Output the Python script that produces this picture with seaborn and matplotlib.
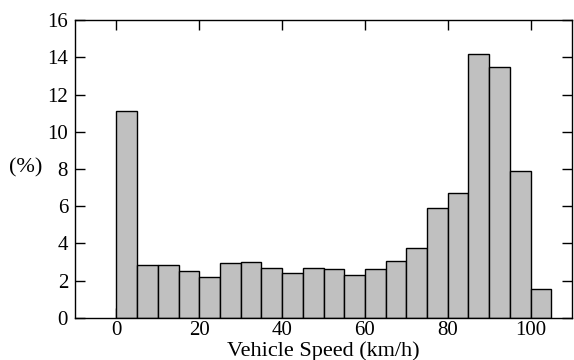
import numpy as np
import pandas as pd
import matplotlib
matplotlib.use("Agg")
import matplotlib.pyplot as plt
import seaborn as sns

bin_left = [0, 5, 10, 15, 20, 25, 30, 35, 40, 45, 50, 55, 60, 65, 70, 75, 80, 85, 90, 95, 100]
percent = [11.12, 2.87, 2.82, 2.53, 2.22, 2.94, 3.03, 2.67, 2.39, 2.71, 2.62, 2.33,
           2.65, 3.08, 3.78, 5.90, 6.69, 14.20, 13.47, 7.89, 1.58]
x_ticks = [0, 20, 40, 60, 80, 100]
y_ticks = [0, 2, 4, 6, 8, 10, 12, 14, 16]

sns.set_style("ticks")
plt.rcParams['font.family'] = ['Liberation Serif', 'DejaVu Serif']

df = pd.DataFrame({"speed": [b + 2.5 for b in bin_left], "pct": percent})

fig = plt.figure(figsize=(5.74, 3.6), dpi=100)
ax = fig.add_axes([0.1307, 0.1167, 0.8658, 0.8277])
sns.histplot(data=df, x="speed", weights="pct", binwidth=5, binrange=(0, 105),
             color="#c0c0c0", edgecolor="black", linewidth=1.0, alpha=1, ax=ax)

ax.set_xlim(-10, 110)
ax.set_ylim(0, 16)
ax.set_xticks(x_ticks)
ax.set_yticks(y_ticks)
ax.tick_params(direction="in", length=7, width=1, top=True, right=True,
               labelsize=15, colors="black")
ax.tick_params(axis="x", pad=2)
ax.tick_params(axis="y", pad=5)
for s in ax.spines.values():
    s.set_visible(True)
    s.set_color("black")
    s.set_linewidth(1)
ax.set_xlabel("Vehicle Speed (km/h)", fontsize=16, color="black", va="baseline")
ax.xaxis.set_label_coords(0.5, -0.128)
ax.set_ylabel("(%)", fontsize=16, color="black", rotation=0, va="center")
ax.yaxis.set_label_coords(-0.1, 0.505)

fig.savefig("out.png", dpi=100)
